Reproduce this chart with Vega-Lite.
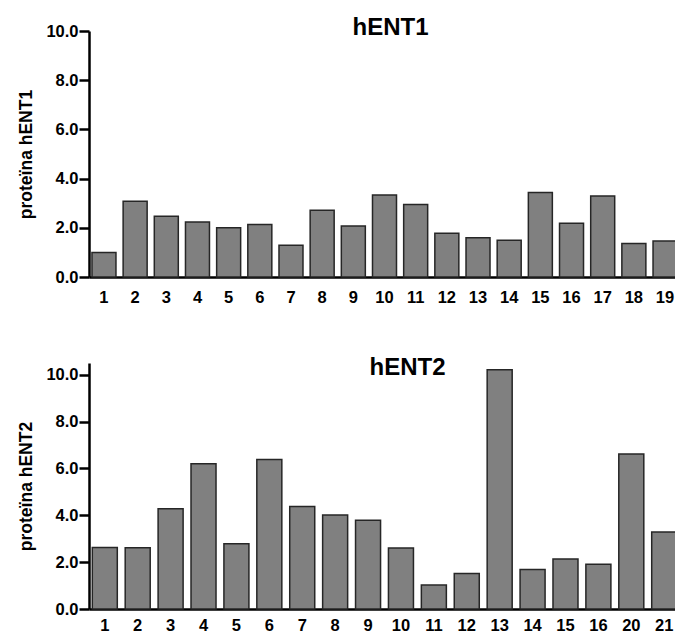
{
  "$schema": "https://vega.github.io/schema/vega-lite/v6.json",
  "padding": {"left": 17, "top": 16, "right": 0, "bottom": 0},
  "background": "white",
  "config": {
    "view": {"stroke": null},
    "font": "Liberation Sans",
    "axis": {
      "labelFont": "Liberation Sans",
      "labelFontWeight": "bold",
      "labelFontSize": 16.5,
      "labelColor": "black",
      "domainColor": "black",
      "domainWidth": 2.5,
      "tickColor": "black",
      "tickWidth": 2.5,
      "grid": false,
      "titleFont": "Liberation Sans",
      "titleFontWeight": "bold",
      "titleFontSize": 17.5,
      "titleColor": "black"
    },
    "title": {"font": "Liberation Sans", "fontSize": 24, "fontWeight": "bold", "color": "black"},
    "concat": {"spacing": 50}
  },
  "datasets": {
    "hent1": [
      {"mostra": "1", "valor": 1.00},
      {"mostra": "2", "valor": 3.08},
      {"mostra": "3", "valor": 2.47},
      {"mostra": "4", "valor": 2.24},
      {"mostra": "5", "valor": 2.00},
      {"mostra": "6", "valor": 2.13},
      {"mostra": "7", "valor": 1.29},
      {"mostra": "8", "valor": 2.71},
      {"mostra": "9", "valor": 2.07},
      {"mostra": "10", "valor": 3.33},
      {"mostra": "11", "valor": 2.95},
      {"mostra": "12", "valor": 1.78},
      {"mostra": "13", "valor": 1.60},
      {"mostra": "14", "valor": 1.49},
      {"mostra": "15", "valor": 3.44},
      {"mostra": "16", "valor": 2.18},
      {"mostra": "17", "valor": 3.29},
      {"mostra": "18", "valor": 1.36},
      {"mostra": "19", "valor": 1.46}
    ],
    "hent2": [
      {"mostra": "1", "valor": 2.62},
      {"mostra": "2", "valor": 2.61},
      {"mostra": "3", "valor": 4.28},
      {"mostra": "4", "valor": 6.20},
      {"mostra": "5", "valor": 2.78},
      {"mostra": "6", "valor": 6.38},
      {"mostra": "7", "valor": 4.37},
      {"mostra": "8", "valor": 4.01},
      {"mostra": "9", "valor": 3.79},
      {"mostra": "10", "valor": 2.60},
      {"mostra": "11", "valor": 1.02},
      {"mostra": "12", "valor": 1.52},
      {"mostra": "13", "valor": 10.21},
      {"mostra": "14", "valor": 1.69},
      {"mostra": "15", "valor": 2.13},
      {"mostra": "16", "valor": 1.91},
      {"mostra": "20", "valor": 6.62},
      {"mostra": "21", "valor": 3.29}
    ]
  },
  "vconcat": [
    {
      "title": {"text": "hENT1", "dx": 6, "offset": -17},
      "data": {"name": "hent1"},
      "width": 591,
      "height": 246,
      "mark": {"type": "bar", "fill": "#808080", "stroke": "#262626", "strokeWidth": 1.5},
      "encoding": {
        "x": {
          "field": "mostra", "type": "ordinal", "sort": null,
          "scale": {"paddingInner": 0.23, "paddingOuter": 0.095},
          "axis": {"title": null, "labelAngle": 0, "ticks": false, "labelPadding": 12}
        },
        "y": {
          "field": "valor", "type": "quantitative",
          "scale": {"domain": [0, 10], "nice": false},
          "axis": {"title": "proteïna hENT1", "values": [0, 2, 4, 6, 8, 10], "format": ".1f", "tickSize": 10, "labelPadding": 1, "titlePadding": 10}
        }
      }
    },
    {
      "title": {"text": "hENT2", "dx": 23, "offset": -17},
      "data": {"name": "hent2"},
      "width": 591,
      "height": 246,
      "mark": {"type": "bar", "fill": "#808080", "stroke": "#262626", "strokeWidth": 1.5},
      "encoding": {
        "x": {
          "field": "mostra", "type": "ordinal", "sort": null,
          "scale": {"paddingInner": 0.24, "paddingOuter": 0.1},
          "axis": {"title": null, "labelAngle": 0, "ticks": false, "labelPadding": 8}
        },
        "y": {
          "field": "valor", "type": "quantitative",
          "scale": {"domain": [0, 10.5], "nice": false},
          "axis": {"title": "proteïna hENT2", "values": [0, 2, 4, 6, 8, 10], "format": ".1f", "tickSize": 10, "labelPadding": 1, "titlePadding": 10}
        }
      }
    }
  ]
}
